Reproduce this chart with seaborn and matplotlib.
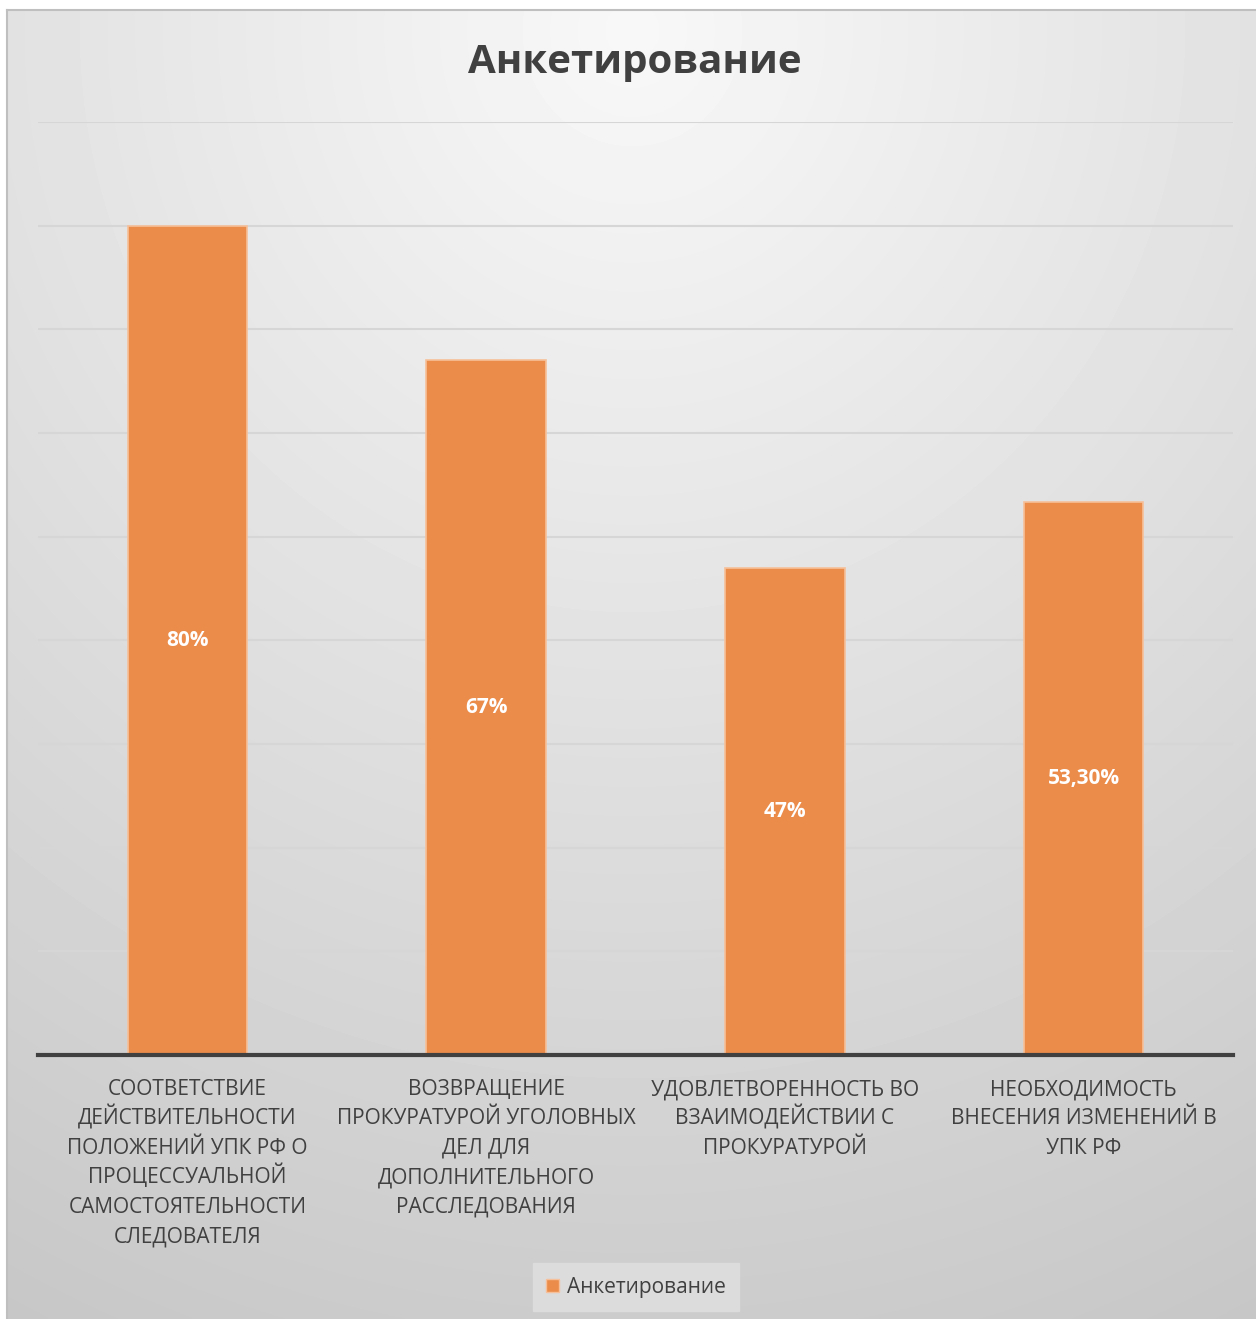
import numpy as np
import matplotlib
matplotlib.use("Agg")
import matplotlib.pyplot as plt
import matplotlib.patches as mpatches
import seaborn as sns

# Data
categories = [
    "СООТВЕТСТВИЕ\nДЕЙСТВИТЕЛЬНОСТИ\nПОЛОЖЕНИЙ УПК РФ О\nПРОЦЕССУАЛЬНОЙ\nСАМОСТОЯТЕЛЬНОСТИ\nСЛЕДОВАТЕЛЯ",
    "ВОЗВРАЩЕНИЕ\nПРОКУРАТУРОЙ УГОЛОВНЫХ\nДЕЛ ДЛЯ\nДОПОЛНИТЕЛЬНОГО\nРАССЛЕДОВАНИЯ",
    "УДОВЛЕТВОРЕННОСТЬ ВО\nВЗАИМОДЕЙСТВИИ С\nПРОКУРАТУРОЙ",
    "НЕОБХОДИМОСТЬ\nВНЕСЕНИЯ ИЗМЕНЕНИЙ В\nУПК РФ",
]
values = [80, 67, 47, 53.3]
value_labels = ["80%", "67%", "47%", "53,30%"]
series_name = "Анкетирование"

sns.set_style("white")
plt.rcParams['font.family'] = ['Open Sans', 'DejaVu Sans']

W, H = 1256, 1319
fig = plt.figure(figsize=(W / 100, H / 100), dpi=100)
fig.patch.set_facecolor("white")

# gradient background (radial from top centre)
bg = fig.add_axes([7 / W, 0, (W - 7) / W, (H - 10) / H])
yy, xx = np.mgrid[0:H - 10, 0:W - 7]
d = np.hypot(xx - 625, (yy - 20) * 0.95)
shade = np.clip(248 - 0.036 * d, 190, 250) / 255
bg.imshow(shade, cmap="gray", vmin=0, vmax=1, aspect="auto", interpolation="bilinear")
bg.set_xticks([])
bg.set_yticks([])
for s in bg.spines.values():
    s.set_color("#BFBFBF")
    s.set_linewidth(1.5)
bg.spines["right"].set_visible(False)
bg.spines["bottom"].set_visible(False)

# main axes
ax = fig.add_axes([38 / W, (H - 1055) / H, (1233 - 38) / W, (1055 - 122) / H])
ax.patch.set_alpha(0)
sns.barplot(x=categories, y=values, color="#EB8C4B", width=0.4, ax=ax,
            saturation=1, edgecolor="#F6C09A", linewidth=1.2, zorder=3)
ax.set_ylim(0, 90)
ax.set_yticks(np.arange(0, 91, 10))
ax.set_yticklabels([])
ax.tick_params(axis="y", length=0)
ax.tick_params(axis="x", length=0)
ax.set_xticklabels([""] * len(categories))
ax.grid(axis="y", color="#D6D6D6", linewidth=1.5, zorder=0)
ax.set_axisbelow(True)
for side in ["top", "right", "left"]:
    ax.spines[side].set_visible(False)
ax.spines["bottom"].set_color("#404040")
ax.spines["bottom"].set_linewidth(3)
ax.spines["bottom"].set_zorder(5)
ax.set_xlabel("")
ax.set_ylabel("")
ax.set_xlim(-0.5, 3.5)

# category labels, one line at a time so spacing stays even
for i, cat in enumerate(categories):
    for k, line in enumerate(cat.split("\n")):
        ax.annotate(line, xy=(i, 0), xycoords=ax.get_xaxis_transform(),
                    xytext=(0, -28.8 - k * 21.2), textcoords="offset points",
                    ha="center", va="baseline", fontsize=15, color="#404040",
                    annotation_clip=False)

for i, (v, lab) in enumerate(zip(values, value_labels)):
    ax.text(i, v / 2, lab, ha="center", va="center", color="white",
            fontsize=15, fontweight="bold", zorder=6)

fig.text(635 / W, 1 - 62 / H, "Анкетирование", ha="center", va="center",
         fontsize=29, fontweight="bold", color="#404040")

# legend
handle = mpatches.Patch(facecolor="#EB8C4B", edgecolor="#F6C09A", label=series_name)
leg = fig.legend(handles=[handle], loc="center", bbox_to_anchor=(636 / W, 1 - 1287 / H),
                 fontsize=15, frameon=True, fancybox=False, handlelength=0.6,
                 handleheight=0.6, handletextpad=0.4, borderpad=0.35, borderaxespad=0)
leg.get_frame().set_facecolor("#DCDCDC")
leg.get_frame().set_edgecolor("#DCDCDC")
leg.get_frame().set_alpha(1)
leg.get_frame().set_boxstyle("square", pad=0.3)
for t in leg.get_texts():
    t.set_color("#404040")

fig.savefig("out.png", dpi=100)
